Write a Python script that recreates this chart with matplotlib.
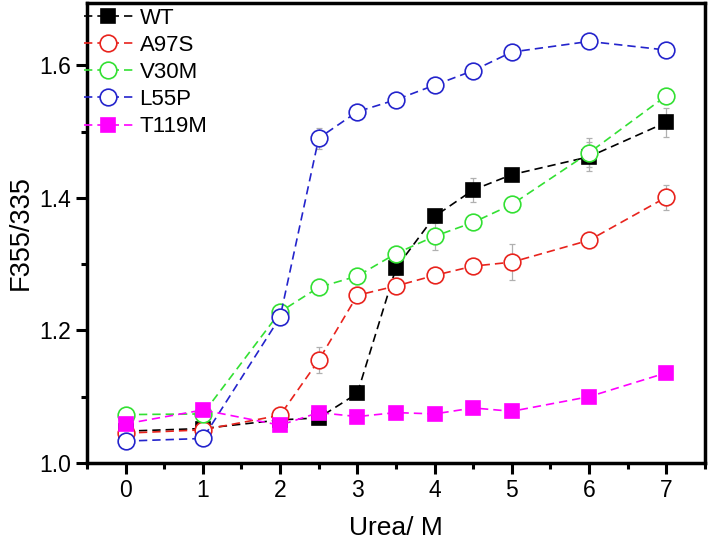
import matplotlib
matplotlib.use("Agg")
import matplotlib.pyplot as plt
from matplotlib.ticker import MultipleLocator

plt.rcParams['font.family'] = ['Liberation Sans', 'DejaVu Sans']

urea = [0, 1, 2, 2.5, 3, 3.5, 4, 4.5, 5, 6, 7]
wt    = [1.048, 1.052, 1.065, 1.068, 1.105, 1.294, 1.372, 1.412, 1.435, 1.462, 1.514]
a97s  = [1.045, 1.050, 1.072, 1.155, 1.253, 1.267, 1.283, 1.297, 1.303, 1.336, 1.401]
v30m  = [1.073, 1.074, 1.228, 1.265, 1.282, 1.316, 1.342, 1.363, 1.390, 1.468, 1.554]
l55p  = [1.033, 1.037, 1.220, 1.490, 1.530, 1.548, 1.570, 1.592, 1.620, 1.636, 1.623]
t119m = [1.059, 1.080, 1.057, 1.076, 1.070, 1.076, 1.074, 1.083, 1.078, 1.100, 1.136]

wt_err    = [0.004, 0.004, 0.004, 0.004, 0.006, 0.010, 0.006, 0.018, 0.005, 0.022, 0.022]
a97s_err  = [0.004, 0.005, 0.004, 0.020, 0.005, 0.005, 0.004, 0.004, 0.027, 0.004, 0.019]
v30m_err  = [0.004, 0.004, 0.004, 0.012, 0.004, 0.012, 0.020, 0.005, 0.005, 0.022, 0.005]
l55p_err  = [0.004, 0.004, 0.004, 0.016, 0.004, 0.004, 0.004, 0.004, 0.004, 0.004, 0.004]
t119m_err = [0.006, 0.006, 0.006, 0.006, 0.005, 0.006, 0.005, 0.008, 0.006, 0.008, 0.004]

labels = ['WT', 'A97S', 'V30M', 'L55P', 'T119M']
series = [wt, a97s, v30m, l55p, t119m]
errors = [wt_err, a97s_err, v30m_err, l55p_err, t119m_err]
colors = ['#000000', '#e8231d', '#33e033', '#2424cc', '#ff00ff']
markers = ['s', 'o', 'o', 'o', 's']
filled = [True, False, False, False, True]

fig = plt.figure(figsize=(7.09, 5.42), dpi=100)
ax = fig.add_axes([0.1227, 0.1458, 0.8716, 0.8487])

for y, e, lab, c, m, f in zip(series, errors, labels, colors, markers, filled):
    ax.errorbar(urea, y, yerr=e, fmt='none', ecolor='#b0b0b0', elinewidth=0.9,
                capsize=2.5, capthick=0.9, zorder=2)
    ax.plot(urea, y, linestyle=(0, (5, 3)), linewidth=1.2, color=c, marker=m,
            markersize=(10 if m == 's' else 12),
            markerfacecolor=(c if f else 'white'), markeredgecolor=c,
            markeredgewidth=1.2, label=lab, zorder=3)

ax.set_xlim(-0.5, 7.5)
ax.set_ylim(1.0, 1.694)
ax.set_xticks(range(0, 8))
ax.set_yticks([1.0, 1.2, 1.4, 1.6])
ax.set_yticklabels(['1.0', '1.2', '1.4', '1.6'])
ax.xaxis.set_minor_locator(MultipleLocator(0.5))
ax.yaxis.set_minor_locator(MultipleLocator(0.1))
ax.tick_params(which='major', direction='out', length=8, width=2.2, labelsize=16.5)
ax.tick_params(which='minor', direction='out', length=4, width=2.2)
for s in ax.spines.values():
    s.set_linewidth(2.5)

ax.set_xlabel('Urea/ M', fontsize=19, labelpad=10)
ax.set_ylabel('F355/335', fontsize=19.5, labelpad=4)

leg = ax.legend(loc='upper left', frameon=False, fontsize=16, handlelength=2.2,
                borderaxespad=0.0, borderpad=0.0, labelspacing=0.28,
                handletextpad=0.3, bbox_to_anchor=(-0.005, 0.99))

fig.savefig('out.png', dpi=100)
